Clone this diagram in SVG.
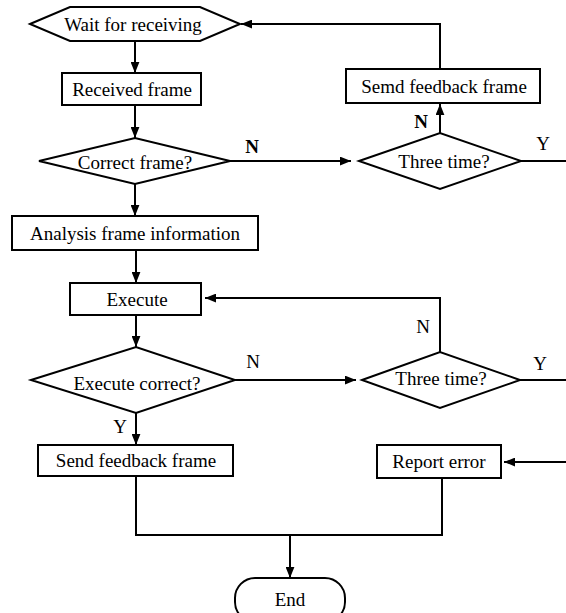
<svg xmlns="http://www.w3.org/2000/svg" width="566" height="613" viewBox="0 0 566 613" font-family="'Liberation Serif', 'DejaVu Serif', serif" font-size="19">
<defs>
<marker id="ah" viewBox="0 0 10 8" refX="10" refY="4" markerWidth="11" markerHeight="9" markerUnits="userSpaceOnUse" orient="auto">
<path d="M0,0 L10,4 L0,8 Z" fill="#000"/>
</marker>
</defs>
<style>
.s{fill:#fff;stroke:#000;stroke-width:2}
.c{fill:none;stroke:#000;stroke-width:2}
.a{marker-end:url(#ah)}
.t{font-family:'Liberation Serif','DejaVu Serif',serif;font-size:19px;fill:#000;text-anchor:middle}
.b{font-weight:bold}
</style>
<rect width="566" height="613" fill="#fff"/>
<g id="connectors">
<path class="c a" d="M135,41 V73"/>
<path class="c a" d="M135,105 V138"/>
<path class="c a" d="M230,161 H351"/>
<path class="c a" d="M440,133 V104"/>
<path class="c a" d="M440,69 V24 H241"/>
<path class="c" d="M521,161 H566"/>
<path class="c a" d="M135,184 V216"/>
<path class="c a" d="M136,250 V283"/>
<path class="c a" d="M136,315 V347"/>
<path class="c a" d="M235,380 H356"/>
<path class="c a" d="M440,352 V298 H205"/>
<path class="c" d="M520,380 H566"/>
<path class="c a" d="M136,413 V445"/>
<path class="c a" d="M566,462 H504"/>
<path class="c" d="M136,476 V535 H442 V478"/>
<path class="c a" d="M290,535 V578"/>
<text x="252" y="153" class="t b">N</text>
<text x="421" y="128" class="t b">N</text>
<text x="543" y="150" class="t">Y</text>
<text x="253" y="368" class="t">N</text>
<text x="423" y="333" class="t">N</text>
<text x="540" y="370" class="t">Y</text>
<text x="120" y="433" class="t">Y</text>
</g>
<g id="wait">
<polygon class="s" points="30,24 70,7 200,7 240,24 200,41 70,41"/>
<text x="133" y="31" class="t">Wait for receiving</text>
</g>
<g id="received">
<rect class="s" x="62" y="73" width="139" height="32"/>
<text x="132" y="96" class="t">Received frame</text>
</g>
<g id="correct">
<polygon class="s" points="39,161 135,138 230,161 135,184"/>
<text x="135" y="169" class="t">Correct frame?</text>
</g>
<g id="three1">
<polygon class="s" points="359,161 440,133 521,161 440,189"/>
<text x="444" y="168" class="t">Three time?</text>
</g>
<g id="semd">
<rect class="s" x="346" y="69" width="194" height="34"/>
<text x="444" y="93" class="t">Semd feedback frame</text>
</g>
<g id="analysis">
<rect class="s" x="12" y="216" width="246" height="34"/>
<text x="135" y="240" class="t">Analysis frame information</text>
</g>
<g id="execute">
<rect class="s" x="70" y="283" width="131" height="32"/>
<text x="137" y="306" class="t">Execute</text>
</g>
<g id="execcorrect">
<polygon class="s" points="31,380 136,347 235,380 136,413"/>
<text x="137" y="390" class="t">Execute correct?</text>
</g>
<g id="three2">
<polygon class="s" points="362,380 440,352 520,380 440,408"/>
<text x="441" y="385" class="t">Three time?</text>
</g>
<g id="send">
<rect class="s" x="38" y="445" width="195" height="31"/>
<text x="136" y="467" class="t">Send feedback frame</text>
</g>
<g id="report">
<rect class="s" x="377" y="445" width="124" height="33"/>
<text x="439" y="468" class="t">Report error</text>
</g>
<g id="end">
<rect class="s" x="235" y="578" width="110" height="44" rx="20" ry="20"/>
<text x="290" y="606" class="t">End</text>
</g>
</svg>
